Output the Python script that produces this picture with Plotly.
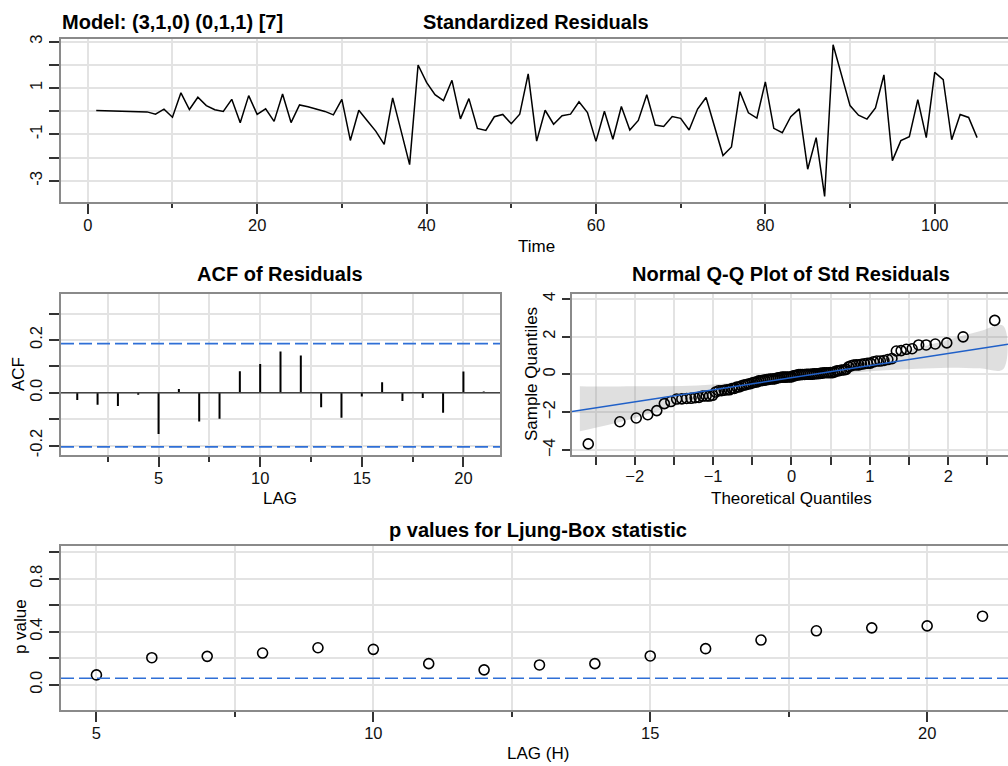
import plotly.graph_objects as go
from statistics import NormalDist

# ---------------- data ----------------
model_label = "Model: (3,1,0) (0,1,1) [7]"

# standardized residuals, t = 1..105
std_resid = [
    0.03, 0.02, 0.01, 0.01, 0.01, 0.00, -0.03, -0.13, 0.09, -0.26,
    0.79, 0.07, 0.60, 0.24, 0.06, -0.01, 0.51, -0.50, 0.67, -0.14,
    0.10, -0.44, 0.74, -0.49, 0.27, 0.19, 0.09, -0.01, -0.16, 0.51,
    -1.26, 0.04, -0.41, -0.86, -1.43, 0.57, -0.86, -2.30, 1.99, 1.24,
    0.71, 0.46, 1.33, -0.33, 0.54, -0.74, -0.83, -0.24, -0.14, -0.54,
    -0.13, 1.61, -1.29, 0.04, -0.56, -0.20, -0.13, 0.40, -0.06, -1.30,
    0.00, -1.21, 0.20, -0.81, -0.40, 0.71, -0.60, -0.66, -0.23, -0.31,
    -0.81, 0.09, 0.59, -0.66, -1.91, -1.54, 0.84, -0.07, -0.30, 1.26,
    -0.74, -0.93, -0.24, 0.10, -2.50, -1.14, -3.67, 2.86, 1.56, 0.24,
    -0.17, -0.34, 0.14, 1.56, -2.13, -1.27, -1.10, 0.50, -1.14, 1.67,
    1.36, -1.23, -0.14, -0.27, -1.14,
]
time_index = list(range(1, len(std_resid) + 1))

# ACF of residuals
acf_lags = list(range(1, 22))
acf_vals = [
    -0.028, -0.046, -0.050, -0.008, -0.156, 0.014, -0.109, -0.099, 0.081, 0.109,
    0.156, 0.141, -0.055, -0.095, -0.014, 0.040, -0.031, -0.020, -0.076, 0.080,
    0.005,
]
acf_upper = 0.186
acf_lower = -0.205

# Ljung-Box p values
lb_lags = list(range(5, 22))
lb_pvals = [
    0.075, 0.205, 0.215, 0.240, 0.280, 0.268, 0.160, 0.113, 0.150, 0.160,
    0.218, 0.273, 0.338, 0.408, 0.430, 0.445, 0.518,
]
lb_alpha = 0.05

# Q-Q reference line and its confidence band
qq_intercept = -0.17
qq_slope = 0.64
band_z = [-2.7, -2.4, -2.0, -1.6, -1.2, -0.8, -0.4, 0.0, 0.4, 0.8, 1.2, 1.6, 2.0, 2.4, 2.7]
band_hi = [-0.62, -0.64, -0.62, -0.62, -0.58, -0.45, -0.28, -0.05, 0.23, 0.56, 0.96, 1.38, 1.84, 2.28, 2.58]
band_lo = [-3.00, -2.72, -2.30, -1.80, -1.33, -0.93, -0.58, -0.29, -0.07, 0.10, 0.22, 0.30, 0.36, 0.33, 0.28]

# ---------------- styling ----------------
W, H = 1008, 766
FONT = "Liberation Sans, Arial, Helvetica, sans-serif"
FRAME = "#8a8a8a"
GRID = "#e3e3e3"
TICK = "#333333"
BLUE = "#2f6fd6"
DASH = "13px,5px"
TICK_SIZE = 16.5
LABEL_SIZE = 17
TITLE_SIZE = 20


def px_x(p):
    return p / W


def px_y(p):
    return 1 - p / H


def axis_common():
    return dict(
        showline=True, linecolor=FRAME, linewidth=2,
        showgrid=True, gridcolor=GRID, gridwidth=1.5,
        zeroline=False, ticks="outside", tickcolor=TICK, tickwidth=1.5,
        tickfont=dict(family=FONT, size=TICK_SIZE, color="#111"),
    )


def minor_ticks(step, length):
    return dict(dtick=step, tick0=0, ticklen=length, ticks="outside",
                tickcolor=TICK, showgrid=True, gridcolor=GRID, gridwidth=1.5)


fig = go.Figure()

# --- standardized residuals ---
fig.add_trace(go.Scatter(
    x=time_index, y=std_resid, mode="lines",
    line=dict(color="black", width=1.5), xaxis="x", yaxis="y",
))

# --- ACF ---
acf_x, acf_y = [], []
for lag, v in zip(acf_lags, acf_vals):
    acf_x += [lag, lag, None]
    acf_y += [0, v, None]
fig.add_trace(go.Scatter(
    x=acf_x, y=acf_y, mode="lines",
    line=dict(color="black", width=2), xaxis="x2", yaxis="y2",
))

# --- Normal Q-Q ---
n = len(std_resid)
nd = NormalDist()
theo = [nd.inv_cdf((i + 0.5) / n) for i in range(n)]
samp = sorted(std_resid)
qx_lo, qx_hi = -2.80, 2.762
fig.add_trace(go.Scatter(
    x=band_z + band_z[::-1], y=band_hi + band_lo[::-1],
    mode="lines", fill="toself", line=dict(width=0, shape="spline"),
    fillcolor="rgba(140,140,140,0.28)", xaxis="x3", yaxis="y3",
))
fig.add_trace(go.Scatter(
    x=theo, y=samp, mode="markers",
    marker=dict(symbol="circle-open", size=10, color="black", line=dict(width=1.6)),
    xaxis="x3", yaxis="y3",
))
fig.add_trace(go.Scatter(
    x=[qx_lo, qx_hi],
    y=[qq_intercept + qq_slope * qx_lo, qq_intercept + qq_slope * qx_hi],
    mode="lines", line=dict(color="#2060c8", width=1.5), xaxis="x3", yaxis="y3",
))

# --- Ljung-Box p values ---
fig.add_trace(go.Scatter(
    x=lb_lags, y=lb_pvals, mode="markers",
    marker=dict(symbol="circle-open", size=10, color="black", line=dict(width=1.6)),
    xaxis="x4", yaxis="y4",
))

# ---------------- axes ----------------
ax = axis_common()

fig.update_layout(
    xaxis=dict(ax, domain=[px_x(61), 1], range=[-3.16, 108.65], anchor="y",
               tickvals=[0, 20, 40, 60, 80, 100], ticklen=10, mirror=True,
               ticklabelstandoff=-3, minor=minor_ticks(10, 4)),
    yaxis=dict(ax, domain=[px_y(200), px_y(35)], range=[-3.93, 3.12], anchor="x",
               tickvals=[-3, -2, -1, 0, 1, 2, 3],
               ticktext=["-3", "", "-1", "", "1", "", "3"],
               ticklen=10, tickangle=-90),

    xaxis2=dict(ax, domain=[px_x(61), px_x(500)], range=[0.2, 21.8], anchor="y2",
                tickvals=[5, 10, 15, 20], ticklen=10, mirror=True,
                ticklabelstandoff=-3, minor=minor_ticks(2.5, 5)),
    yaxis2=dict(ax, domain=[px_y(455), px_y(292)], range=[-0.2375, 0.375], anchor="x2",
                tickvals=[-0.2, -0.1, 0, 0.1, 0.2, 0.3],
                ticktext=["-0.2", "", "0.0", "", "0.2", ""],
                ticklen=10, tickangle=-90, mirror=True),

    xaxis3=dict(ax, domain=[px_x(572), 1], range=[qx_lo, qx_hi], anchor="y3",
                tickvals=[-2, -1, 0, 1, 2], ticklen=8, mirror=True,
                ticklabelstandoff=-3, minor=minor_ticks(0.5, 8)),
    yaxis3=dict(ax, domain=[px_y(455), px_y(292)], range=[-4.28, 4.27], anchor="x3",
                tickvals=[-4, -2, 0, 2, 4], ticklen=8, tickangle=-90),

    xaxis4=dict(ax, domain=[px_x(61), 1], range=[4.36, 21.46], anchor="y4",
                tickvals=[5, 10, 15, 20], ticklen=10, mirror=True,
                ticklabelstandoff=-3, minor=minor_ticks(2.5, 5)),
    yaxis4=dict(ax, domain=[px_y(712), px_y(546)], range=[-0.193, 1.05], anchor="x4",
                tickvals=[0, 0.2, 0.4, 0.6, 0.8, 1.0],
                ticktext=["0.0", "", "0.4", "", "0.8", ""],
                ticklen=10, tickangle=-90),
)

# ---------------- reference lines ----------------
shapes = [
    dict(type="line", xref="x2 domain", yref="y2", x0=0, x1=1, y0=0, y1=0,
         line=dict(color="#444", width=1.5)),
    dict(type="line", xref="x2 domain", yref="y2", x0=0, x1=1, y0=acf_upper, y1=acf_upper,
         line=dict(color=BLUE, width=1.6, dash=DASH)),
    dict(type="line", xref="x2 domain", yref="y2", x0=0, x1=1, y0=acf_lower, y1=acf_lower,
         line=dict(color=BLUE, width=1.6, dash=DASH)),
    dict(type="line", xref="x4 domain", yref="y4", x0=0, x1=1, y0=lb_alpha, y1=lb_alpha,
         line=dict(color=BLUE, width=1.6, dash=DASH)),
]

# ---------------- titles and axis labels ----------------
def note(text, x, y, size=LABEL_SIZE, bold=False, angle=0, xanchor="center"):
    return dict(
        text=f"<b>{text}</b>" if bold else text,
        x=px_x(x), y=px_y(y), xref="paper", yref="paper",
        xanchor=xanchor, yanchor="middle", showarrow=False, textangle=angle,
        font=dict(family=FONT, size=size, color="black"),
    )


annotations = [
    note(model_label, 60, 18, size=TITLE_SIZE, bold=True, xanchor="left"),
    note("Standardized Residuals", 536, 18, size=TITLE_SIZE, bold=True),
    note("Time", 536, 244),
    note("ACF of Residuals", 280, 272, size=TITLE_SIZE, bold=True),
    note("LAG", 280, 498),
    note("ACF", 18, 373, angle=-90),
    note("Normal Q-Q Plot of Std Residuals", 791, 272, size=TITLE_SIZE, bold=True),
    note("Theoretical Quantiles", 791, 498),
    note("Sample Quantiles", 531, 373, angle=-90),
    note("p values for Ljung-Box statistic", 538, 530, size=TITLE_SIZE, bold=True),
    note("LAG (H)", 538, 755),
    note("p value", 20, 628, angle=-90),
]

fig.update_layout(
    width=W, height=H, autosize=False,
    margin=dict(l=0, r=0, t=0, b=0),
    paper_bgcolor="white", plot_bgcolor="white",
    showlegend=False,
    shapes=shapes, annotations=annotations,
    font=dict(family=FONT, size=TICK_SIZE, color="#111"),
)

fig.write_html("out.html")
